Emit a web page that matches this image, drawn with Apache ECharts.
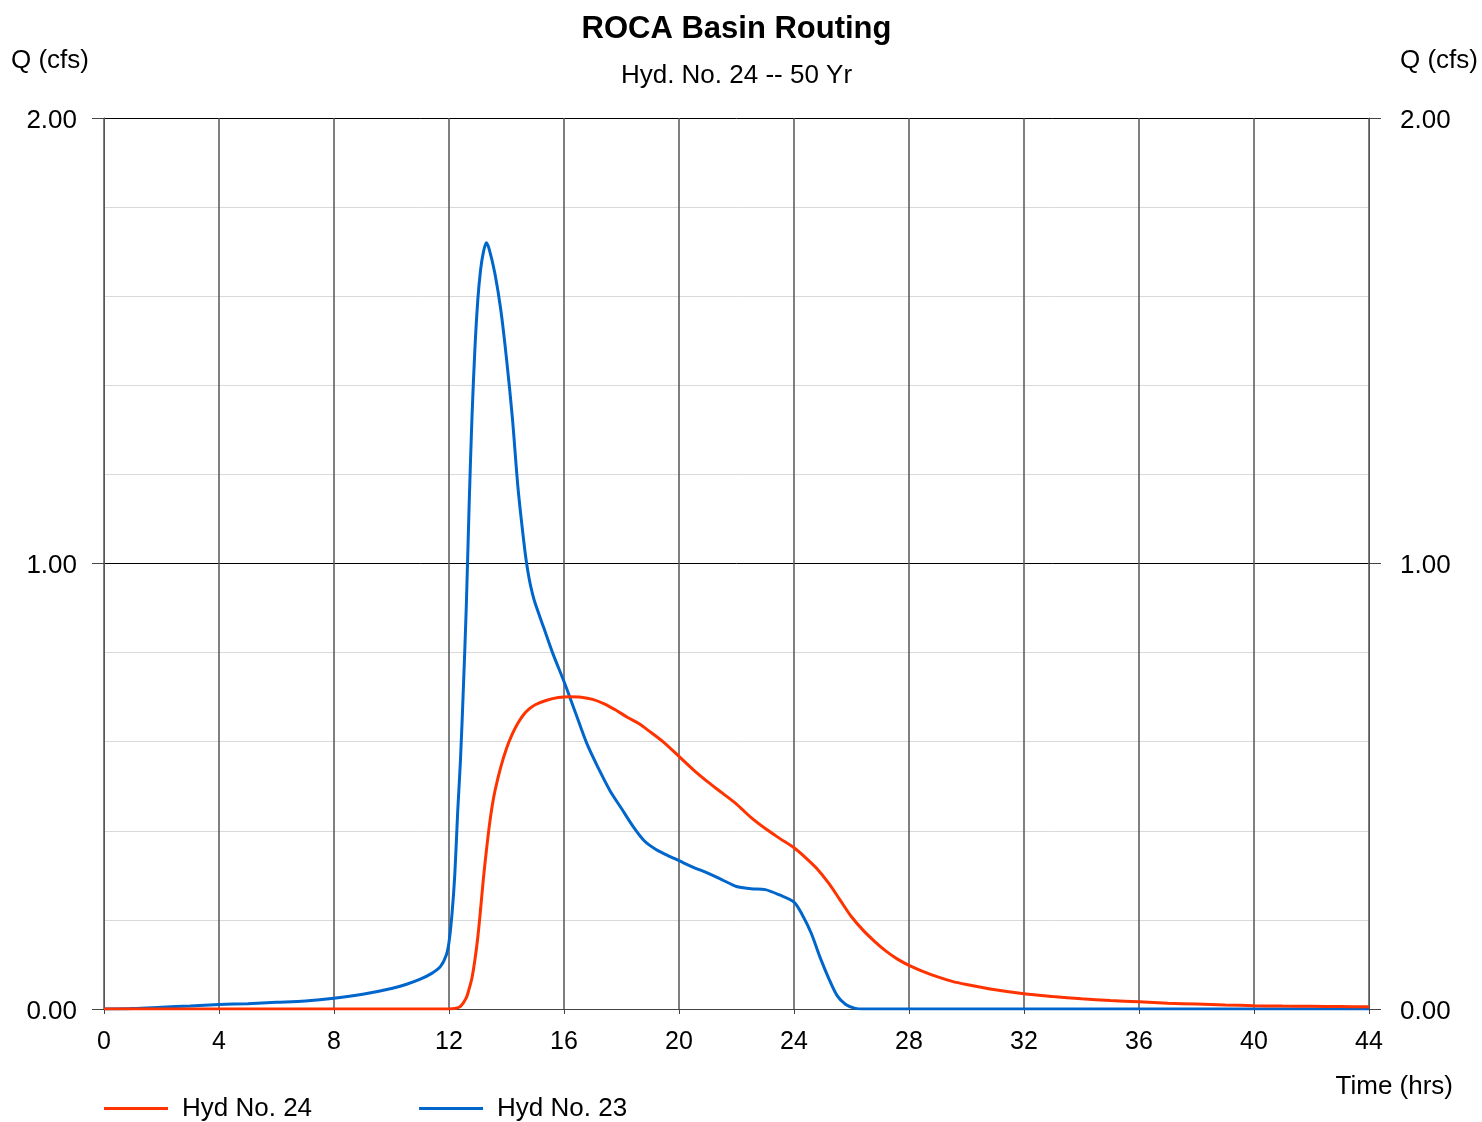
<!DOCTYPE html>
<html>
<head>
<meta charset="utf-8">
<script src="https://cdn.jsdelivr.net/npm/echarts@6/dist/echarts.min.js"></script>
<style>
html,body{margin:0;padding:0;background:#fff;}
#chart{width:1482px;height:1122px;}
</style>
</head>
<body>
<div id="chart"></div>
<script>
// ---- Data ----
const titleText = 'ROCA Basin Routing';
const subtitleText = 'Hyd. No. 24 -- 50 Yr';
const yAxisName = 'Q (cfs)';
const xAxisName = 'Time (hrs)';
const seriesNames = ['Hyd No. 24', 'Hyd No. 23'];

// Hyd No. 23 (blue)
const hyd23Time = [0, 1, 2, 3, 4, 5, 6, 7, 8, 9, 10, 10.5, 11, 11.4, 11.7, 11.9, 12.0, 12.1, 12.2, 12.3, 12.4, 12.5, 12.6, 12.7, 12.8, 12.9, 13.0, 13.1, 13.2, 13.3, 13.4, 13.6, 13.8, 14.0, 14.2, 14.4, 14.6, 14.7, 14.8, 14.9, 15.0, 15.3, 15.6, 16.0, 16.4, 16.8, 17.2, 17.6, 18.0, 18.4, 18.8, 19.2, 19.6, 20.0, 20.5, 21.0, 21.5, 22.0, 22.5, 23.0, 23.5, 24.0, 24.3, 24.6, 24.9, 25.2, 25.5, 25.8, 26.1, 26.4, 27, 44];
const hyd23Q = [0, 0.001, 0.004, 0.007, 0.010, 0.012, 0.015, 0.018, 0.024, 0.033, 0.046, 0.055, 0.067, 0.080, 0.095, 0.120, 0.150, 0.210, 0.300, 0.440, 0.560, 0.720, 0.900, 1.130, 1.330, 1.480, 1.590, 1.660, 1.700, 1.720, 1.705, 1.650, 1.570, 1.460, 1.330, 1.170, 1.050, 1.000, 0.962, 0.933, 0.910, 0.855, 0.800, 0.735, 0.665, 0.595, 0.540, 0.490, 0.450, 0.410, 0.377, 0.358, 0.345, 0.333, 0.318, 0.305, 0.290, 0.275, 0.270, 0.268, 0.256, 0.240, 0.210, 0.170, 0.117, 0.070, 0.030, 0.010, 0.002, 0, 0, 0];

// Hyd No. 24 (red)
const hyd24Time = [0, 12.0, 12.2, 12.4, 12.6, 12.7, 12.8, 12.9, 13.0, 13.1, 13.2, 13.3, 13.4, 13.5, 13.6, 13.8, 14.0, 14.2, 14.4, 14.6, 14.8, 15.0, 15.4, 15.8, 16.2, 16.6, 17.0, 17.4, 17.8, 18.2, 18.6, 19.0, 19.5, 20.0, 20.5, 21.0, 21.5, 22.0, 22.5, 23.0, 23.5, 24.0, 24.4, 24.8, 25.2, 25.6, 26.0, 26.4, 26.8, 27.2, 27.6, 28.0, 28.5, 29.0, 29.5, 30, 31, 32, 33, 34, 35, 36, 37, 38, 39, 40, 41, 42, 43, 44];
const hyd24Q = [0, 0, 0.001, 0.006, 0.025, 0.045, 0.070, 0.110, 0.160, 0.225, 0.295, 0.355, 0.410, 0.455, 0.490, 0.543, 0.585, 0.617, 0.642, 0.661, 0.674, 0.683, 0.693, 0.699, 0.701, 0.700, 0.695, 0.685, 0.671, 0.655, 0.641, 0.622, 0.597, 0.567, 0.537, 0.510, 0.485, 0.460, 0.430, 0.405, 0.383, 0.362, 0.340, 0.315, 0.283, 0.245, 0.207, 0.177, 0.152, 0.130, 0.112, 0.098, 0.084, 0.072, 0.062, 0.055, 0.043, 0.034, 0.028, 0.023, 0.019, 0.016, 0.013, 0.011, 0.009, 0.0075, 0.0065, 0.006, 0.0055, 0.005];

// Axis ranges
const xMin = 0, xMax = 44, xStep = 4;
const yMin = 0, yMax = 2, yStep = 1;

// ---- Build ----
const FONT = '"Liberation Sans", Arial, Helvetica, sans-serif';
const pairs = (t, q) => t.map((v, i) => [v, q[i]]);

const chart = echarts.init(document.getElementById('chart'), null, {renderer: 'canvas'});

const yLabel = {fontSize: 26, color: '#000', fontFamily: FONT, verticalAlign: 'top', lineHeight: 5, formatter: v => v.toFixed(2)};
const yAxisCommon = {
  type: 'value', min: yMin, max: yMax, interval: yStep,
  axisLine: {show: true, lineStyle: {color: '#555', width: 1}},
  axisTick: {show: true, inside: false, length: 12, lineStyle: {color: '#444', width: 1}},
  minorTick: {show: false, splitNumber: 5}
};

const textStyleBase = (font, align) => ({font: font, fill: '#000', align: align, verticalAlign: 'middle', textAlign: align, textVerticalAlign: 'middle'});

const option = {
  animation: false,
  backgroundColor: '#fff',
  grid: {left: 104, right: 113, top: 118, bottom: 113, containLabel: false, outerBoundsMode: 'none'},
  xAxis: {
    type: 'value', min: xMin, max: xMax, interval: xStep,
    axisLine: {show: true, onZero: false, lineStyle: {color: '#444', width: 1}},
    axisTick: {show: true, inside: false, length: 5, lineStyle: {color: '#444'}},
    axisLabel: {fontSize: 25, color: '#000', fontFamily: FONT, margin: 21},
    splitLine: {show: true, lineStyle: {color: '#555', width: 1.5}}
  },
  yAxis: [
    Object.assign({}, yAxisCommon, {
      position: 'left',
      axisLabel: Object.assign({}, yLabel, {margin: 27}),
      splitLine: {show: true, lineStyle: {color: '#000', width: 1}},
      minorSplitLine: {show: true, lineStyle: {color: '#d9d9d9', width: 1}}
    }),
    Object.assign({}, yAxisCommon, {
      position: 'right',
      axisLabel: Object.assign({}, yLabel, {margin: 31}),
      splitLine: {show: false},
      minorSplitLine: {show: false}
    })
  ],
  legend: {
    show: true,
    data: [seriesNames[0], seriesNames[1]],
    left: 104, top: 1095.5,
    padding: 0,
    orient: 'horizontal',
    icon: 'rect',
    itemWidth: 64, itemHeight: 3, itemGap: 107,
    selectedMode: false,
    textStyle: {fontSize: 26, color: '#000', fontFamily: FONT, padding: [0, 0, 0, 9]}
  },
  graphic: [
    {type: 'text', x: 736.5, y: 29, style: Object.assign({text: titleText}, textStyleBase('bold 31px ' + FONT, 'center'))},
    {type: 'text', x: 736.5, y: 76, style: Object.assign({text: subtitleText}, textStyleBase('26px ' + FONT, 'center'))},
    {type: 'text', x: 50, y: 61, style: Object.assign({text: yAxisName}, textStyleBase('26px ' + FONT, 'center'))},
    {type: 'text', x: 1439, y: 61, style: Object.assign({text: yAxisName}, textStyleBase('26px ' + FONT, 'center'))},
    {type: 'text', x: 1453, y: 1087, style: Object.assign({text: xAxisName}, textStyleBase('26px ' + FONT, 'right'))}
  ],
  series: [
    {
      name: seriesNames[1], type: 'line', yAxisIndex: 0,
      data: pairs(hyd23Time, hyd23Q),
      symbol: 'none', smooth: 0.3,
      lineStyle: {color: '#0066cc', width: 3},
      itemStyle: {color: '#0066cc'},
      z: 3
    },
    {
      name: seriesNames[0], type: 'line', yAxisIndex: 0,
      data: pairs(hyd24Time, hyd24Q),
      symbol: 'none', smooth: 0.3,
      lineStyle: {color: '#ff3300', width: 3},
      itemStyle: {color: '#ff3300'},
      z: 4
    }
  ]
};
chart.setOption(option);
</script>
</body>
</html>
